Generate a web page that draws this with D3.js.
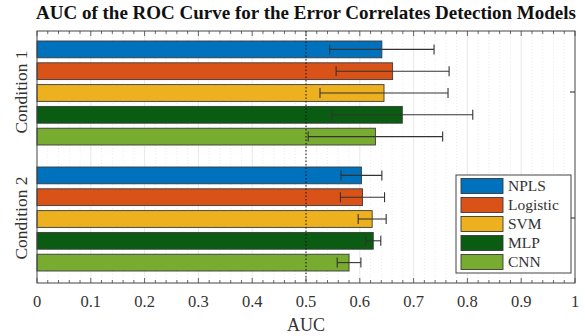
<!DOCTYPE html>
<html>
<head>
<meta charset="utf-8">
<script src="https://cdn.jsdelivr.net/npm/d3@7"></script>
<style>
  body { margin: 0; background: #fff; }
  text { font-family: "Liberation Serif", "Times New Roman", serif; }
</style>
</head>
<body>
<div id="chart"></div>
<script>
// chart data
var conditions = ["Condition 1", "Condition 2"];
var models = ["NPLS", "Logistic", "SVM", "MLP", "CNN"];
var modelColors = ["#0072BD", "#D95319", "#EDB120", "#0A5C12", "#77AC30"];
// mean AUC per model, one array per condition
var aucCond1 = [0.641, 0.661, 0.645, 0.679, 0.629];
var aucCond2 = [0.603, 0.605, 0.623, 0.625, 0.580];
// standard deviation (error bar half width)
var errCond1 = [0.097, 0.105, 0.119, 0.131, 0.125];
var errCond2 = [0.038, 0.041, 0.026, 0.014, 0.022];
var xTicks = [0, 0.1, 0.2, 0.3, 0.4, 0.5, 0.6, 0.7, 0.8, 0.9, 1];
var chanceLevel = 0.5;

var width = 585, height = 336;
var margin = {top: 31, right: 10, bottom: 53, left: 37};

var svg = d3.select("#chart").append("svg")
  .attr("width", width)
  .attr("height", height);

var x = d3.scaleLinear().domain([0, 1]).range([margin.left, width - margin.right]);
var y0 = d3.scaleBand().domain(conditions).range([margin.top, height - margin.bottom]).padding(0);
var y1 = d3.scaleBand().domain(models).range([10, 114]).paddingInner(0.23).paddingOuter(0);

var rows = [];
conditions.forEach(function (c, ci) {
  var vals = ci === 0 ? aucCond1 : aucCond2;
  var errs = ci === 0 ? errCond1 : errCond2;
  models.forEach(function (m, mi) {
    rows.push({cond: c, model: m, value: vals[mi], err: errs[mi], color: modelColors[mi]});
  });
});

var plotTop = margin.top, plotBottom = height - margin.bottom;

/**
 * grid lines (minor dotted, major light solid)
 */
var minor = d3.range(0, 1.0001, 0.02).filter(function (v) { return Math.round(v * 50) % 5 !== 0; });
svg.append("g").selectAll("line").data(minor).join("line")
  .attr("x1", function (d) { return x(d); }).attr("x2", function (d) { return x(d); })
  .attr("y1", plotTop).attr("y2", plotBottom)
  .attr("stroke", "#dcdcdc").attr("stroke-width", 0.6).attr("stroke-dasharray", "1,2");
svg.append("g").selectAll("line").data(xTicks.slice(1, -1)).join("line")
  .attr("x1", function (d) { return x(d); }).attr("x2", function (d) { return x(d); })
  .attr("y1", plotTop).attr("y2", plotBottom)
  .attr("stroke", "#e2e2e2").attr("stroke-width", 0.8);

// bars
svg.append("g").selectAll("rect").data(rows).join("rect")
  .attr("x", x(0))
  .attr("y", function (d) { return y0(d.cond) + y1(d.model); })
  .attr("width", function (d) { return x(d.value) - x(0); })
  .attr("height", y1.bandwidth())
  .attr("fill", function (d) { return d.color; })
  .attr("stroke", "#3a3a3a")
  .attr("stroke-width", 0.9);

// chance level line
svg.append("line")
  .attr("x1", x(chanceLevel)).attr("x2", x(chanceLevel))
  .attr("y1", plotTop).attr("y2", plotBottom)
  .attr("stroke", "#111").attr("stroke-width", 1).attr("stroke-dasharray", "1.5,2");

// error bars
var eb = svg.append("g").attr("stroke", "#333").attr("stroke-width", 1.1);
rows.forEach(function (d) {
  var cy = y0(d.cond) + y1(d.model) + y1.bandwidth() / 2;
  var lo = x(d.value - d.err), hi = x(d.value + d.err);
  eb.append("line").attr("x1", lo).attr("x2", hi).attr("y1", cy).attr("y2", cy);
  eb.append("line").attr("x1", lo).attr("x2", lo).attr("y1", cy - 5).attr("y2", cy + 5);
  eb.append("line").attr("x1", hi).attr("x2", hi).attr("y1", cy - 5).attr("y2", cy + 5);
});

// axis box
svg.append("rect")
  .attr("x", x(0)).attr("y", plotTop)
  .attr("width", x(1) - x(0)).attr("height", plotBottom - plotTop)
  .attr("fill", "none").attr("stroke", "#444").attr("stroke-width", 1);

// ticks on top and bottom (inward)
var allMinor = d3.range(0, 1.0001, 0.02);
var tk = svg.append("g").attr("stroke", "#444").attr("stroke-width", 0.8);
allMinor.forEach(function (v) {
  var major = Math.round(v * 50) % 5 === 0;
  var len = major ? 5 : 3;
  tk.append("line").attr("x1", x(v)).attr("x2", x(v)).attr("y1", plotBottom).attr("y2", plotBottom - len);
  tk.append("line").attr("x1", x(v)).attr("x2", x(v)).attr("y1", plotTop).attr("y2", plotTop + len);
});
// right side category ticks
conditions.forEach(function (c) {
  var cy = y0(c) + y0.bandwidth() / 2 - 2;
  tk.append("line").attr("x1", x(1)).attr("x2", x(1) - 5).attr("y1", cy).attr("y2", cy).attr("stroke-width", 1.2);
});

// x tick labels
svg.append("g").selectAll("text").data(xTicks).join("text")
  .attr("x", function (d) { return x(d); })
  .attr("y", plotBottom + 24)
  .attr("text-anchor", "middle")
  .attr("font-size", 16.5)
  .attr("fill", "#333")
  .text(function (d) { return d3.format("")(d); });

svg.append("text")
  .attr("x", (x(0) + x(1)) / 2).attr("y", plotBottom + 48)
  .attr("text-anchor", "middle").attr("font-size", 18).attr("fill", "#333")
  .text("AUC");

// condition labels
conditions.forEach(function (c) {
  var cy = y0(c) + y0.bandwidth() / 2 - 2;
  svg.append("text")
    .attr("transform", "translate(27," + cy + ") rotate(-90)")
    .attr("text-anchor", "middle")
    .attr("font-size", 17.5)
    .attr("fill", "#333")
    .text(c);
});

// title
svg.append("text")
  .attr("x", (x(0) + x(1)) / 2).attr("y", 19)
  .attr("text-anchor", "middle")
  .attr("font-size", 19)
  .attr("font-weight", "bold")
  .attr("fill", "#111")
  .text("AUC of the ROC Curve for the Error Correlates Detection Models");

/**
 * legend
 */
var lg = svg.append("g").attr("transform", "translate(456,175)");
lg.append("rect").attr("width", 115).attr("height", 98)
  .attr("fill", "#fff").attr("stroke", "#444").attr("stroke-width", 1);
models.forEach(function (m, i) {
  var g = lg.append("g").attr("transform", "translate(5," + (3.5 + i * 19) + ")");
  g.append("rect").attr("width", 42).attr("height", 15)
    .attr("fill", modelColors[i]).attr("stroke", "#3a3a3a").attr("stroke-width", 0.9);
  g.append("text").attr("x", 47).attr("y", 12.5)
    .attr("font-size", 15.5).attr("fill", "#333").text(m);
});
</script>
</body>
</html>
